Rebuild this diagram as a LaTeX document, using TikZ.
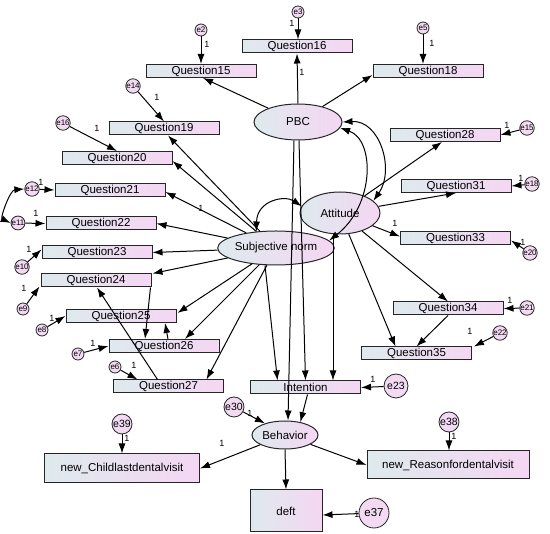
\documentclass[tikz,border=0pt]{standalone}
\usepackage{fontspec}
\setmainfont{Liberation Sans}
\usetikzlibrary{arrows.meta,calc,shapes.geometric}
\definecolor{bl}{RGB}{222,234,237}
\definecolor{pk}{RGB}{245,214,243}
\definecolor{ep}{RGB}{242,218,242}
\begin{document}
\begin{tikzpicture}[x=1pt,y=-1pt,
  box/.style={draw=black!85, line width=1pt, left color=bl, right color=pk, minimum width=110pt, minimum height=13pt, inner sep=0pt, font=\fontsize{11.5}{12}\selectfont},
  ell/.style={ellipse, draw=black!85, line width=1pt, left color=bl, right color=pk, inner sep=0pt, font=\fontsize{11.5}{12}\selectfont},
  err/.style={circle, draw=black!85, line width=0.8pt, fill=ep, inner sep=0pt, minimum size=12pt, font=\fontsize{8}{8}\selectfont},
  errb/.style={circle, draw=black!85, line width=0.8pt, fill=ep, inner sep=0pt, font=\fontsize{10.5}{11}\selectfont},
  arr/.style={draw, line width=1pt, -{Latex[length=10pt,width=7pt]}},
  biarr/.style={draw, line width=1pt, {Latex[length=10pt,width=7pt]}-{Latex[length=10pt,width=7pt]}},
  lab/.style={font=\fontsize{9}{9}\selectfont, inner sep=0pt}]
\useasboundingbox (0,0) rectangle (550,534);

% boxes
\node[box] (q16) at (297,46.5) {Question16};
\node[box] (q15) at (201,71) {Question15};
\node[box] (q18) at (428,71) {Question18};
\node[box] (q19) at (164,128.5) {Question19};
\node[box] (q20) at (117,158) {Question20};
\node[box] (q21) at (110,190) {Question21};
\node[box] (q22) at (101,223.5) {Question22};
\node[box] (q23) at (97,252.5) {Question23};
\node[box] (q24) at (96,280.5) {Question24};
\node[box] (q25) at (121,316) {Question25};
\node[box] (q26) at (164,346) {Question26};
\node[box] (q27) at (168.5,386.5) {Question27};
\node[box] (q28) at (445,135) {Question28};
\node[box] (q31) at (456,186) {Question31};
\node[box] (q33) at (455.5,238.5) {Question33};
\node[box] (q34) at (448,308.5) {Question34};
\node[box] (q35) at (416.5,353.5) {Question35};
\node[box] (int) at (305.5,387.5) {Intention};
\node[box, minimum width=155pt, minimum height=29pt] (child) at (122,468.5) {new\_Childlastdentalvisit};
\node[box, minimum width=162pt, minimum height=28pt] (reason) at (448,465) {new\_Reasonfordentalvisit};
\node[box, minimum width=72pt, minimum height=42pt] (deft) at (286,511) {deft};

% latent ellipses
\node[ell, minimum width=88pt, minimum height=36pt] (pbc) at (298,122) {PBC};
\node[ell, minimum width=80pt, minimum height=42pt] (att) at (340,213) {Attitude};
\node[ell, minimum width=102pt, minimum height=34pt] (sn) at (276,248) {Subjective norm};
\node[ell, minimum width=66pt, minimum height=28pt] (beh) at (285,435) {Behavior};

% small error terms
\node[err] (e2) at (201,30) {e2};
\node[err] (e3) at (298,12) {e3};
\node[err] (e5) at (423,28) {e5};
\node[err] (e14) at (133,86) {e14};
\node[err] (e16) at (63,123) {e16};
\node[err] (e12) at (32,189) {e12};
\node[err] (e11) at (18,223) {e11};
\node[err] (e10) at (22,267) {e10};
\node[err] (e9) at (23,309) {e9};
\node[err] (e8) at (42,330) {e8};
\node[err] (e7) at (78,354) {e7};
\node[err] (e6) at (115,367) {e6};
\node[err] (e15) at (527,128) {e15};
\node[err] (e18) at (532,184) {e18};
\node[err] (e20) at (530,253) {e20};
\node[err] (e21) at (527,308) {e21};
\node[err] (e22) at (500,333) {e22};

% larger error terms
\node[errb, minimum size=24pt] (e23) at (396,386) {e23};
\node[errb, minimum size=20pt] (e30) at (234,407) {e30};
\node[errb, minimum size=20pt] (e39) at (122,424) {e39};
\node[errb, minimum size=20pt] (e38) at (449,422) {e38};
\node[errb, minimum size=30pt, font=\fontsize{11.5}{12}\selectfont] (e37) at (374,513) {e37};

% error paths
\draw[arr] (e2) -- (q15.north);
\draw[arr] (e3) -- (q16.north -| e3);
\draw[arr] (e5) -- (q18.north -| e5);
\draw[arr] (e14) -- (q19.north);
\draw[arr] (e16) -- (q20.north);
\draw[arr] (e12) -- (q21.west);
\draw[arr] (e11) -- (q22.west);
\draw[arr] (e10) -- ($(q23.west)+(0,-3)$);
\draw[arr] (e9) -- ($(q24.south west)+(-1,-1)$);
\draw[arr] (e8) -- (q25.west);
\draw[arr] (e7) -- (q26.west);
\draw[arr] (e6) -- ($(q27.north)+(-31,0)$);
\draw[arr] (e15) -- (q28.east);
\draw[arr] (e18) -- (q31.east);
\draw[arr] (e20) -- ($(q33.east)+(0,2)$);
\draw[arr] (e21) -- (q34.east);
\draw[arr] (e22) -- ($(q35.north east)+(2,0)$);
\draw[arr] (e23) -- (int.east);
\draw[arr] (e30) -- (beh.150);
\draw[arr] (e39) -- (child.north -| e39);
\draw[arr] (e38) -- (reason.north -| e38);
\draw[arr] (e37) -- ($(deft.east)+(0,4)$);
\draw[biarr] (e12.west) .. controls (10,190) and (0,218) .. (e11.west);

% PBC paths
\draw[arr] (pbc) -- ($(q15.south)+(2,0)$);
\draw[arr] (pbc.north) -- (q16.south);
\draw[arr] (pbc) -- ($(q18.south west)+(0,-3)$);
\draw[arr] ($(pbc.south)+(1,0)$) -- (int.north);
\draw[arr] ($(pbc.south)+(-4,0)$) -- ($(beh.north)+(3,0)$);

% Attitude paths
\draw[arr] (att) -- ($(q28.south)+(-3,0)$);
\draw[arr] (att) -- (q31.south);
\draw[arr] (att) -- ($(q33.west)+(0,-2)$);
\draw[arr] (att) -- (q34.north);
\draw[arr] (att) -- ($(q35.north)+(-21,0)$);
\draw[arr] (q34.south) -- (q35.north);
\draw[arr] ($(att.south)+(-7,0)$) -- ($(int.north)+(27.5,0)$);

% Subjective norm paths
\draw[arr] (sn) -- ($(q19.south)+(4,0)$);
\draw[arr] (sn) -- ($(q20.east)+(0,3)$);
\draw[arr] (sn) -- ($(q21.east)+(0,2)$);
\draw[arr] (sn) -- (q22.east);
\draw[arr] (sn) -- (q23.east);
\draw[arr] (sn) -- ($(q24.north east)+(1,0)$);
\draw[arr] (sn) -- ($(q25.east)+(1,-3)$);
\draw[arr] (sn) -- ($(q26.north)+(21,0)$);
\draw[arr] (sn) -- ($(q27.north)+(38,0)$);
\draw[arr] ($(sn.south)+(-11,0)$) -- ($(int.north)+(-28,0)$);
\draw[arr] ($(q24.south east)+(-1,0)$) -- ($(q26.north)+(-19,0)$);
\draw[arr] ($(q26.north)+(4,0)$) -- ($(q25.south)+(44,0)$);
\draw[arr] ($(q27.north)+(-11,0)$) -- ($(q24.south)+(1,0)$);

% structural
\draw[arr] ($(int.south)+(2,0)$) -- (beh.40);
\draw[arr] (beh) -- (child.east);
\draw[arr] (beh) -- (reason.west);
\draw[arr] (beh.south) -- (deft.north);

% covariances
\draw[biarr] (pbc.east) .. controls (380,120) and (395,170) .. (att.20);
\draw[biarr] (pbc.-8) .. controls (375,140) and (375,205) .. (sn.8);
\draw[biarr] (att.170) .. controls (285,195) and (257,200) .. (sn.140);

% labels
\node[lab] (l1) at (207,44) {1};
\node[lab] (l2) at (292,23) {1};
\node[lab] (l3) at (432,43) {1};
\node[lab] (l4) at (157,97) {1};
\node[lab] (l5) at (97,128) {1};
\node[lab] (l6) at (41,182) {1};
\node[lab] (l7) at (36,213) {1};
\node[lab] (l8) at (29,249) {1};
\node[lab] (l9) at (24,288) {1};
\node[lab] (l10) at (52,318) {1};
\node[lab] (l11) at (93,343) {1};
\node[lab] (l12) at (134,365) {1};
\node[lab] (l13) at (507,125) {1};
\node[lab] (l14) at (521,178) {1};
\node[lab] (l15) at (523,242) {1};
\node[lab] (l16) at (510,300) {1};
\node[lab] (l17) at (470,331) {1};
\node[lab] (l18) at (373,379) {1};
\node[lab] (l19) at (250,413) {1};
\node[lab] (l20) at (127,438) {1};
\node[lab] (l21) at (454,436) {1};
\node[lab] (l22) at (357,514) {1};
\node[lab] (l23) at (302,72) {1};
\node[lab] (l24) at (201,208) {1};
\node[lab] (l25) at (395,223) {1};
\node[lab] (l26) at (222,443) {1};
\end{tikzpicture}
\end{document}
